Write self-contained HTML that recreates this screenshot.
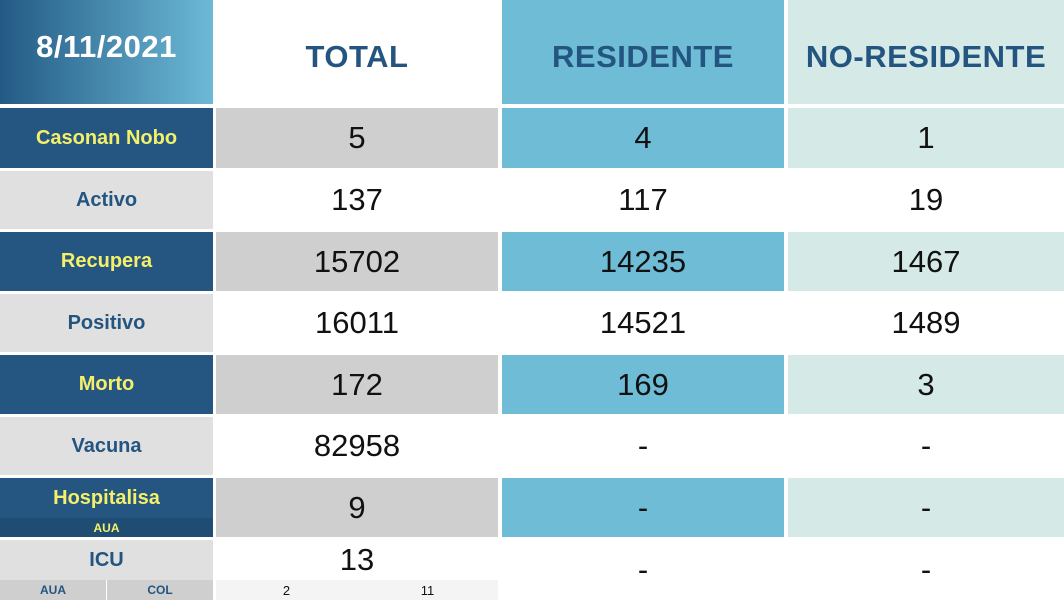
<!DOCTYPE html>
<html><head><meta charset="utf-8"><style>
body{margin:0;width:1064px;height:603px;background:#fff;overflow:hidden;font-family:"Liberation Sans",sans-serif;position:relative}
.c{position:absolute;display:flex;align-items:center;justify-content:center;box-sizing:border-box}
.h{font-weight:bold;font-size:31px;color:#235580;letter-spacing:0.5px}
.lab{font-weight:bold;font-size:20px}
.num{font-size:31px;color:#111}
</style></head><body>
<div class="c h" style="left:0;top:0;width:213px;height:104px;background:linear-gradient(90deg,#235a85,#6cb9d6);color:#fff;padding-bottom:10px">8/11/2021</div>
<div class="c h" style="left:216px;top:0;width:282px;height:104px;padding-top:10px">TOTAL</div>
<div class="c h" style="left:502px;top:0;width:282px;height:104px;background:#6fbcd6;padding-top:10px">RESIDENTE</div>
<div class="c h" style="left:788px;top:0;width:276px;height:104px;background:#d5e9e6;padding-top:10px">NO-RESIDENTE</div>
<div id="t"></div>
<script>
const labels=["Casonan Nobo","Activo","Recupera","Positivo","Morto","Vacuna","Hospitalisa","ICU"];
const totals=["5","137","15702","16011","172","82958","9","13"];
const residente=["4","117","14235","14521","169","-","-","-"];
const noResidente=["1","19","1467","1489","3","-","-","-"];
const t=document.getElementById('t');
function cell(x,y,w,h,bg,cls,txt,color){
  const d=document.createElement('div');
  d.className='c '+cls;
  d.style.cssText=`left:${x}px;top:${y}px;width:${w}px;height:${h}px;background:${bg};color:${color||''}`;
  d.textContent=txt;
  t.appendChild(d);return d;
}
const tops=[108,171,232,294,355,417,478,540];
labels.forEach((l,i)=>{
  const y=tops[i],h=(i<7?tops[i+1]-3:600)-y;
  const odd=i%2===0;
  let hh=h;
  if(i===7)hh=40;
  let lab=cell(0,y,213,hh,odd?'#245681':'#e0e0e0','lab',l,odd?'#f4f06a':'#235580');
  
  
  if(i===6){lab.style.paddingBottom='18px';
    let s=cell(0,y+40,213,h-40,'#1f4c73','lab','AUA','#f4f06a');s.style.fontSize='12px';
    
    }
  let tc=cell(216,y,282,hh,odd?'#cfcfcf':'#fff','num',totals[i]);
  
  
  let rc=cell(502,y,282,h,odd?'#6fbcd6':'#fff','num',residente[i]);
  
  
  let nc=cell(788,y,276,h,odd?'#d5e9e6':'#fff','num',noResidente[i]);
  
  
});
const subL=["AUA","COL"],subV=["2","11"];
subL.forEach((s,i)=>{
  let a=cell(i*107,580,106,20,'#cfcfcf','lab',s,'#235580');a.style.fontSize='12px';
  
  
  let b=cell(216+i*141,580,141,20,'#f4f4f4','',subV[i],'#111');b.style.fontSize='13px';
  
  
});
</script>
</body></html>
